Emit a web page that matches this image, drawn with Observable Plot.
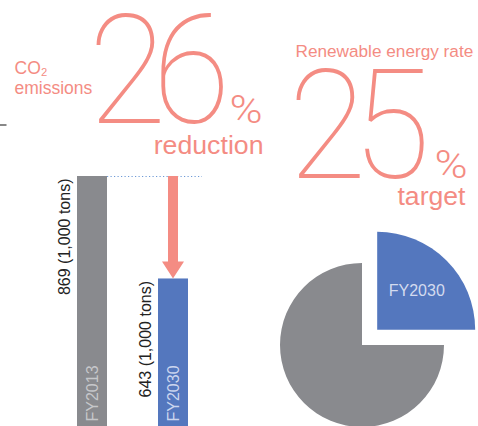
<!DOCTYPE html>
<html><head><meta charset="utf-8">
<script src="https://cdn.jsdelivr.net/npm/d3@7"></script>
<script src="https://cdn.jsdelivr.net/npm/@observablehq/plot@0.6"></script>
<style>html,body{margin:0;padding:0;background:#fff;overflow:hidden}#chart svg{display:block}</style>
</head><body><div id="chart"></div>
<script>
// ---- data ----
const categories = ["FY2013", "FY2030"];
const emissions = [869, 643];
const emissionLabels = ["869 (1,000 tons)", "643 (1,000 tons)"];
const reductionText = ["26"];
const renewableText = ["25"];
const renewableShare = [25, 75];
const renewableLabels = ["FY2030", ""];

const bars = categories.map((c, i) => ({cat: c, value: emissions[i], label: emissionLabels[i]}));

const salmon = "#f48c83", grey = "#898a8e", blue = "#5477be";
const SANS = "'Liberation Sans', Arial, sans-serif";
const ROBO = "Roboto, 'Liberation Sans', sans-serif";

function arrowMark(index, scales) {
  const bw = typeof scales.x.bandwidth === "function" ? scales.x.bandwidth() : (scales.x.bandwidth || 0);
  const x = scales.x(categories[1]) + bw / 2;
  const y1 = scales.y(emissions[0]), y2 = scales.y(emissions[1]);
  const head = 17, hw = 11, sw = 5;
  const d = `M${x - sw},${y1}L${x + sw},${y1}L${x + sw},${y2 - head}L${x + hw},${y2 - head}L${x},${y2}L${x - hw},${y2 - head}L${x - sw},${y2 - head}Z`;
  const g = d3.create("svg:g");
  g.append("path").attr("d", d).attr("fill", salmon);
  return g.node();
}

function pieMark() {
  const g = d3.create("svg:g");
  const arcs = d3.pie().sort(null).value(d => d)(renewableShare);
  const cx = 362, cy = 345;
  const radius = [98, 82], shift = [21.5, 0], colors = [blue, grey];
  arcs.forEach((a, i) => {
    const mid = (a.startAngle + a.endAngle) / 2;
    const ox = Math.sin(mid) * shift[i], oy = -Math.cos(mid) * shift[i];
    const gg = g.append("g").attr("transform", `translate(${cx + ox},${cy + oy})`);
    gg.append("path").attr("d", d3.arc().innerRadius(0).outerRadius(radius[i])(a)).attr("fill", colors[i]);
    if (renewableLabels[i]) {
      const [lx, ly] = d3.arc().innerRadius(56).outerRadius(56).centroid(a);
      gg.append("text").attr("x", lx).attr("y", ly).attr("dy", "0.35em")
        .attr("text-anchor", "middle").attr("fill", "#d3dbef")
        .attr("font-family", SANS).attr("font-size", 16).text(renewableLabels[i]);
    }
  });
  return g.node();
}

function dashMark() {
  const g = d3.create("svg:g");
  g.append("line").attr("x1", 0).attr("x2", 6.5).attr("y1", 125).attr("y2", 125)
    .attr("stroke", "#555").attr("stroke-width", 1.4);
  return g.node();
}

const txt = (s, o) => Plot.text([s], {text: d => d, frameAnchor: "top-left", textAnchor: "start", lineAnchor: "bottom", fill: salmon, fontFamily: SANS, ...o});

const svg = Plot.plot({
  width: 478, height: 426,
  margin: 0,
  style: {background: "white"},
  x: {type: "band", domain: categories, range: [77, 189], paddingInner: 0.626, paddingOuter: 0, axis: null},
  y: {domain: [0, d3.max(emissions)], range: [570, 176], axis: null},
  color: {domain: categories, range: [grey, blue]},
  marks: [
    Plot.barY(bars, {x: "cat", y: "value", fill: "cat"}),
    Plot.ruleY([emissions[0]], {stroke: "#6f9ad6", strokeWidth: 1.2, strokeDasharray: "1.2,2.3", insetLeft: 107, insetRight: 276}),
    arrowMark,
    Plot.text(bars, {x: "cat", y: "value", text: "label", rotate: -90, textAnchor: "end", lineAnchor: "bottom", dx: -22.5, dy: 2, fill: "#222", fontSize: 16, fontFamily: SANS}),
    Plot.text(bars, {x: "cat", text: "cat", frameAnchor: "bottom", rotate: -90, textAnchor: "start", lineAnchor: "bottom", dx: 5, dy: -5, fill: d => d.cat === categories[0] ? "#c6c7ca" : "#cbd5ee", fontSize: 16, fontFamily: SANS}),
    pieMark,
    dashMark,
    txt("CO₂", {dx: 14, dy: 73, fontSize: 17.5}),
    txt("emissions", {dx: 14, dy: 93, fontSize: 17.5}),
    txt(reductionText[0], {dx: 88, dy: 122, fontSize: 153, fontFamily: ROBO, fontWeight: 100}),
    txt("%", {dx: 229, dy: 122, fontSize: 38, fontFamily: ROBO, fontWeight: 300}),
    txt("reduction", {dx: 263, dy: 153, textAnchor: "end", fontSize: 26.7}),
    txt("Renewable energy rate", {dx: 295, dy: 56, fontSize: 17.2}),
    txt(renewableText[0], {dx: 288, dy: 177, fontSize: 153, fontFamily: ROBO, fontWeight: 100}),
    txt("%", {dx: 434, dy: 177, fontSize: 38, fontFamily: ROBO, fontWeight: 300}),
    txt("target", {dx: 465, dy: 204, textAnchor: "end", fontSize: 26.6})
  ]
});

function squeeze(el, s, ls) {
  const t = el.getAttribute("transform");
  if (t) el.setAttribute("transform", t + ` scale(${s},1)`);
  else {
    const x = +el.getAttribute("x") || 0;
    el.setAttribute("transform", `translate(${x},0) scale(${s},1) translate(${-x},0)`);
  }
  if (ls) el.style.letterSpacing = ls + "px";
}
svg.querySelectorAll("text").forEach(el => {
  const s = el.textContent;
  if (s === reductionText[0] || s === renewableText[0]) squeeze(el, 0.93, -15);
  else if (s === "%") squeeze(el, 1.18, 0);
});
document.getElementById("chart").append(svg);
</script>
</body></html>
